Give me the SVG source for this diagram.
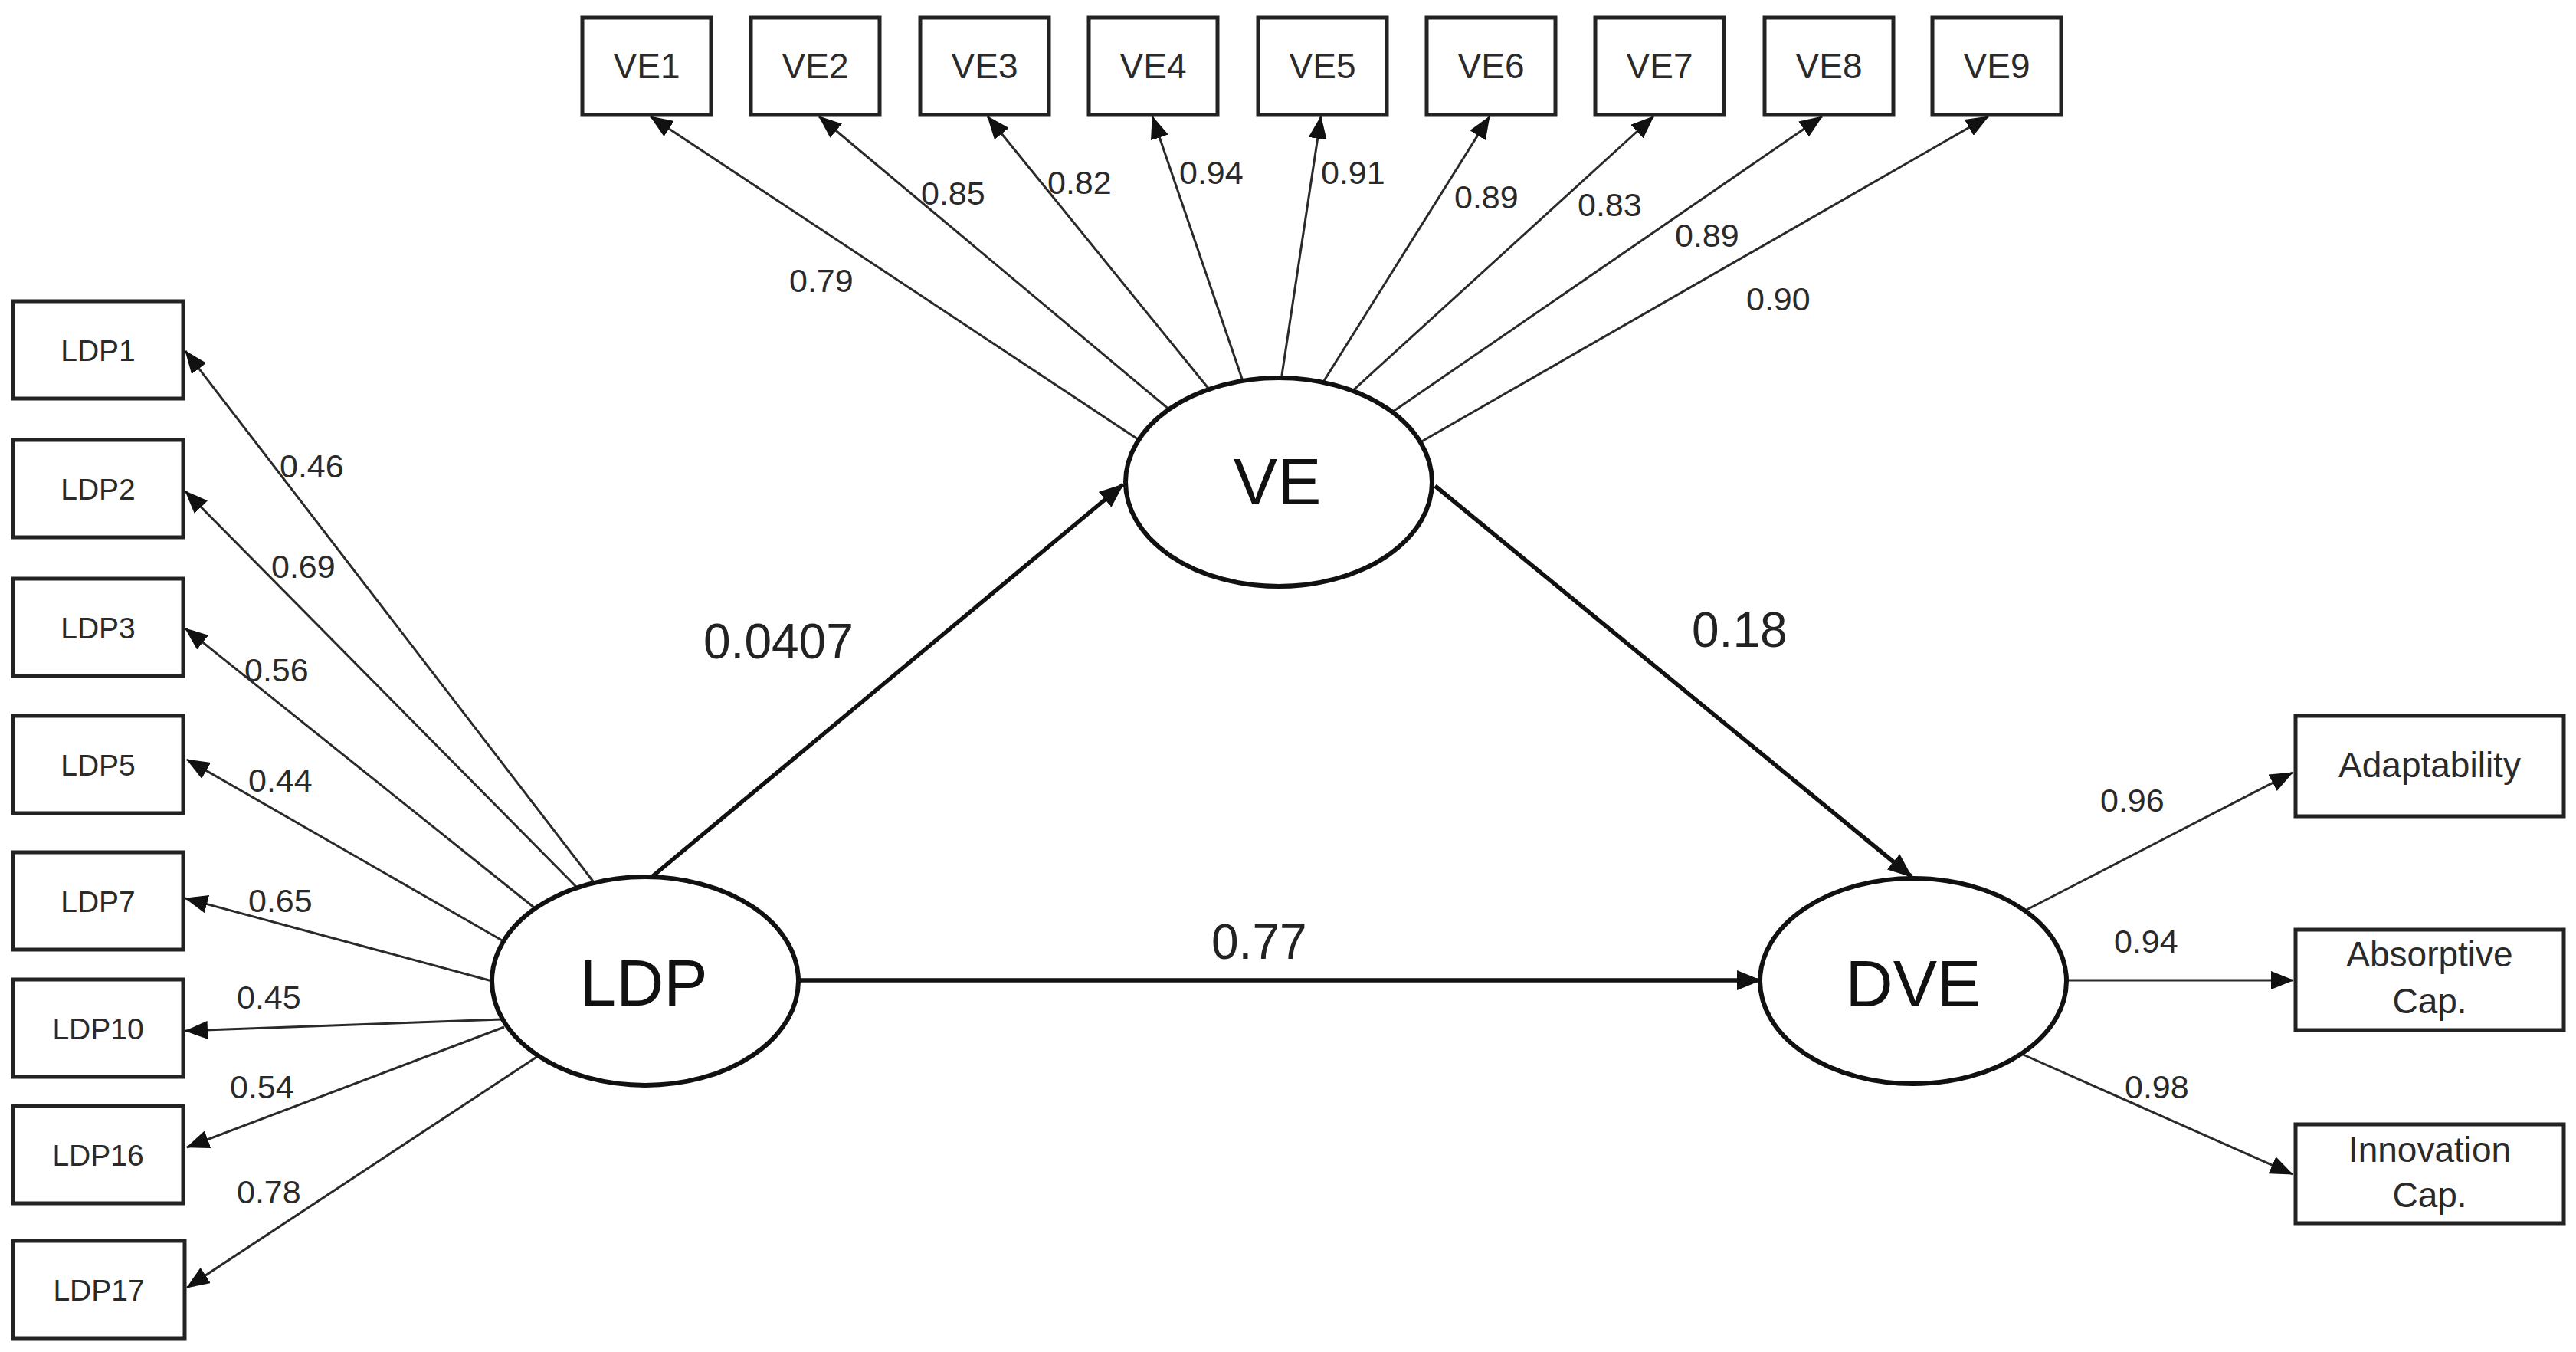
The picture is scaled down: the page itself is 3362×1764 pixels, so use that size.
<svg xmlns="http://www.w3.org/2000/svg" width="3362" height="1764" viewBox="0 0 3362 1764">
<style>
.box{fill:#fff;stroke:#222;stroke-width:5}
.ell{fill:#fff;stroke:#111;stroke-width:6}
.ld{fill:none;stroke:#2a2a2a;stroke-width:3;marker-end:url(#ah)}
.st{fill:none;stroke:#111;stroke-width:5.5;marker-end:url(#ah2)}
text{font-family:"Liberation Sans",Arial,sans-serif;fill:#2a2a2a}
.bl{font-size:39px;text-anchor:middle}
.vl{font-size:46px;text-anchor:middle}
.rl{font-size:46px;text-anchor:middle}
.lab{font-size:43px}
.big{font-size:64px;fill:#222}
.lat{font-size:86px;text-anchor:middle;fill:#111}
</style>
<defs>
<marker id="ah" markerUnits="userSpaceOnUse" markerWidth="30" markerHeight="24" refX="29" refY="12" orient="auto">
<path d="M0,0 L30,12 L0,24 z" fill="#111"/>
</marker>
<marker id="ah2" markerUnits="userSpaceOnUse" markerWidth="32" markerHeight="26" refX="31" refY="13" orient="auto">
<path d="M0,0 L32,13 L0,26 z" fill="#111"/>
</marker>
</defs>
<rect width="3362" height="1764" fill="#fff"/>

<g id="connectors">
<!-- LDP loadings -->
<line class="ld" x1="778" y1="1155" x2="242" y2="458"/>
<line class="ld" x1="757" y1="1162" x2="242" y2="641"/>
<line class="ld" x1="702" y1="1188" x2="242" y2="820"/>
<line class="ld" x1="657" y1="1228" x2="244" y2="991"/>
<line class="ld" x1="642" y1="1280" x2="242" y2="1172"/>
<line class="ld" x1="655" y1="1330" x2="242" y2="1345"/>
<line class="ld" x1="658" y1="1340" x2="244" y2="1497"/>
<line class="ld" x1="702" y1="1378" x2="244" y2="1680"/>
<!-- VE loadings -->
<line class="ld" x1="1488" y1="575" x2="849" y2="152"/>
<line class="ld" x1="1528" y1="536" x2="1069" y2="152"/>
<line class="ld" x1="1579" y1="509" x2="1289" y2="152"/>
<line class="ld" x1="1623" y1="500" x2="1504" y2="152"/>
<line class="ld" x1="1672" y1="496" x2="1724" y2="152"/>
<line class="ld" x1="1726" y1="500" x2="1944" y2="152"/>
<line class="ld" x1="1763" y1="512" x2="2158" y2="152"/>
<line class="ld" x1="1815" y1="539" x2="2378" y2="152"/>
<line class="ld" x1="1852" y1="578" x2="2595" y2="152"/>
<!-- DVE loadings -->
<line class="ld" x1="2643" y1="1188" x2="2992" y2="1008"/>
<line class="ld" x1="2695" y1="1279" x2="2993" y2="1279"/>
<line class="ld" x1="2636" y1="1374" x2="2992" y2="1532"/>
<!-- structural paths -->
<line class="st" x1="846" y1="1148" x2="1466" y2="632"/>
<line class="st" x1="1873" y1="634" x2="2495" y2="1144"/>
<line class="st" x1="1040" y1="1279" x2="2298" y2="1279"/>
</g>

<g id="labels">
<text class="lab" x="365" y="623">0.46</text>
<text class="lab" x="354" y="754">0.69</text>
<text class="lab" x="319" y="889">0.56</text>
<text class="lab" x="324" y="1033">0.44</text>
<text class="lab" x="324" y="1190">0.65</text>
<text class="lab" x="309" y="1316">0.45</text>
<text class="lab" x="300" y="1433">0.54</text>
<text class="lab" x="309" y="1570">0.78</text>
<text class="lab" x="1030" y="381">0.79</text>
<text class="lab" x="1202" y="267">0.85</text>
<text class="lab" x="1367" y="253">0.82</text>
<text class="lab" x="1539" y="240">0.94</text>
<text class="lab" x="1724" y="240">0.91</text>
<text class="lab" x="1898" y="272">0.89</text>
<text class="lab" x="2059" y="282">0.83</text>
<text class="lab" x="2186" y="322">0.89</text>
<text class="lab" x="2279" y="405">0.90</text>
<text class="lab" x="2741" y="1059">0.96</text>
<text class="lab" x="2759" y="1243">0.94</text>
<text class="lab" x="2773" y="1433">0.98</text>
<text class="big" x="918" y="859">0.0407</text>
<text class="big" x="2208" y="844">0.18</text>
<text class="big" x="1581" y="1251">0.77</text>
</g>

<g id="node-LDP1"><rect class="box" x="17" y="393" width="222" height="127"/><text class="bl" x="128" y="471">LDP1</text></g>
<g id="node-LDP2"><rect class="box" x="17" y="574" width="222" height="127"/><text class="bl" x="128" y="652">LDP2</text></g>
<g id="node-LDP3"><rect class="box" x="17" y="755" width="222" height="127"/><text class="bl" x="128" y="833">LDP3</text></g>
<g id="node-LDP5"><rect class="box" x="17" y="934" width="222" height="127"/><text class="bl" x="128" y="1012">LDP5</text></g>
<g id="node-LDP7"><rect class="box" x="17" y="1112" width="222" height="127"/><text class="bl" x="128" y="1190">LDP7</text></g>
<g id="node-LDP10"><rect class="box" x="17" y="1278" width="222" height="127"/><text class="bl" x="128" y="1356">LDP10</text></g>
<g id="node-LDP16"><rect class="box" x="17" y="1443" width="222" height="127"/><text class="bl" x="128" y="1521">LDP16</text></g>
<g id="node-LDP17"><rect class="box" x="17" y="1619" width="224" height="127"/><text class="bl" x="129" y="1697">LDP17</text></g>

<g id="node-VE1"><rect class="box" x="760" y="23" width="168" height="127"/><text class="vl" x="844" y="102">VE1</text></g>
<g id="node-VE2"><rect class="box" x="980" y="23" width="168" height="127"/><text class="vl" x="1064" y="102">VE2</text></g>
<g id="node-VE3"><rect class="box" x="1201" y="23" width="168" height="127"/><text class="vl" x="1285" y="102">VE3</text></g>
<g id="node-VE4"><rect class="box" x="1421" y="23" width="168" height="127"/><text class="vl" x="1505" y="102">VE4</text></g>
<g id="node-VE5"><rect class="box" x="1642" y="23" width="168" height="127"/><text class="vl" x="1726" y="102">VE5</text></g>
<g id="node-VE6"><rect class="box" x="1862" y="23" width="168" height="127"/><text class="vl" x="1946" y="102">VE6</text></g>
<g id="node-VE7"><rect class="box" x="2082" y="23" width="168" height="127"/><text class="vl" x="2166" y="102">VE7</text></g>
<g id="node-VE8"><rect class="box" x="2303" y="23" width="168" height="127"/><text class="vl" x="2387" y="102">VE8</text></g>
<g id="node-VE9"><rect class="box" x="2522" y="23" width="168" height="127"/><text class="vl" x="2606" y="102">VE9</text></g>

<g id="node-Adaptability"><rect class="box" x="2996" y="934" width="350" height="131"/><text class="rl" x="3171" y="1014">Adaptability</text></g>
<g id="node-Absorptive"><rect class="box" x="2996" y="1213" width="350" height="131"/><text class="rl" x="3171" y="1261">Absorptive</text><text class="rl" x="3171" y="1322">Cap.</text></g>
<g id="node-Innovation"><rect class="box" x="2996" y="1467" width="350" height="129"/><text class="rl" x="3171" y="1516">Innovation</text><text class="rl" x="3171" y="1575">Cap.</text></g>

<g id="node-LDP"><ellipse class="ell" cx="842" cy="1280" rx="200" ry="136"/><text class="lat" x="840" y="1312">LDP</text></g>
<g id="node-VE"><ellipse class="ell" cx="1669" cy="629" rx="200" ry="136"/><text class="lat" x="1667" y="658">VE</text></g>
<g id="node-DVE"><ellipse class="ell" cx="2497" cy="1280" rx="200" ry="134"/><text class="lat" x="2497" y="1313">DVE</text></g>
</svg>
